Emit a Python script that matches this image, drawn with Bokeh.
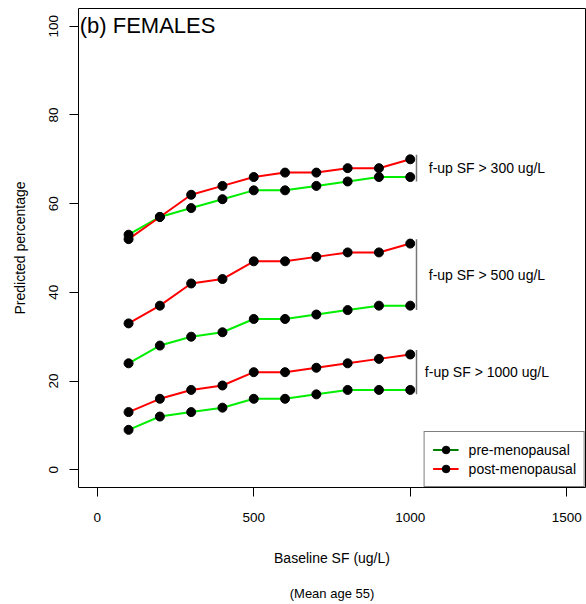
from bokeh.plotting import figure
from bokeh.models import Range1d, FixedTicker, Label, Legend, LegendItem, Title
from bokeh.embed import file_html
from bokeh.resources import INLINE

# ---- data ----
sf = [100, 200, 300, 400, 500, 600, 700, 800, 900, 1000]
pre_300 = [53, 57, 59, 61, 63, 63, 64, 65, 66, 66]
post_300 = [52, 57, 62, 64, 66, 67, 67, 68, 68, 70]
pre_500 = [24, 28, 30, 31, 34, 34, 35, 36, 37, 37]
post_500 = [33, 37, 42, 43, 47, 47, 48, 49, 49, 51]
pre_1000 = [9, 12, 13, 14, 16, 16, 17, 18, 18, 18]
post_1000 = [13, 16, 18, 19, 22, 22, 23, 24, 25, 26]

bracket_x = 1020
bracket_low = [65, 36, 17]
bracket_high = [71, 52, 27]
bracket_labels = ["f-up SF > 300 ug/L", "f-up SF > 500 ug/L", "f-up SF > 1000 ug/L"]
label_x = 1245

x_ticks = [0, 500, 1000, 1500]
y_ticks = [0, 20, 40, 60, 80, 100]

FONT = "Liberation Sans"
GREEN = "#00EE00"
RED = "#FF0000"
LEG_GREEN = "#008000"

p = figure(frame_width=507, frame_height=479, output_backend="svg", toolbar_location=None,
           x_range=Range1d(-60, 1560), y_range=Range1d(-4, 104),
           min_border_left=78, min_border_right=1, min_border_top=8,
           min_border_bottom=0)
p.grid.visible = False
p.outline_line_color = "black"
p.outline_line_width = 1
p.background_fill_color = "white"
p.border_fill_color = "white"

for ax in (p.xaxis[0], p.yaxis[0]):
    ax.axis_line_color = None
    ax.major_tick_out = 9
    ax.major_tick_in = 0
    ax.minor_tick_line_color = None
    ax.major_tick_line_color = "black"
    ax.major_label_text_font = FONT
    ax.major_label_text_font_size = "13.5px"
    ax.major_label_text_color = "black"
    ax.axis_label_text_font = FONT
    ax.axis_label_text_font_size = "14px"
    ax.axis_label_text_font_style = "normal"
    ax.axis_label_text_color = "black"

p.xaxis.ticker = FixedTicker(ticks=x_ticks)
p.yaxis.ticker = FixedTicker(ticks=y_ticks)
p.xaxis.axis_label = "Baseline SF (ug/L)"
p.yaxis.axis_label = "Predicted percentage"
p.xaxis.major_label_standoff = 16
p.xaxis.axis_label_standoff = 25
p.yaxis.major_label_orientation = "vertical"
p.yaxis.major_label_standoff = 11
p.yaxis.axis_label_standoff = 19

# series
for pre, post in ((pre_300, post_300), (pre_500, post_500), (pre_1000, post_1000)):
    p.line(sf, pre, line_color=GREEN, line_width=2)
    p.line(sf, post, line_color=RED, line_width=2)
for ys in (pre_300, post_300, pre_500, post_500, pre_1000, post_1000):
    p.scatter(sf, ys, size=9, fill_color="black", line_color="black")

# brackets and labels
p.segment(x0=[bracket_x] * 3, y0=bracket_low, x1=[bracket_x] * 3, y1=bracket_high,
          line_color="#777777", line_width=1.5)
for lo, hi, txt in zip(bracket_low, bracket_high, bracket_labels):
    p.add_layout(Label(x=label_x, y=(lo + hi) / 2, text=txt, text_align="center",
                       text_baseline="middle", text_font=FONT, text_font_size="14px",
                       text_color="black"))

# title inside
p.add_layout(Label(x=-56, y=100.2, text="(b) FEMALES", text_align="left",
                   text_baseline="alphabetic", text_font=FONT, text_font_size="22px",
                   text_color="black"))

# bottom note
p.add_layout(Title(text="(Mean age 55)", align="center", text_font=FONT,
                   text_font_size="13px", text_font_style="normal",
                   text_color="black", standoff=30), "below")

# legend (dummy renderers placed outside the visible range)
lg1 = p.line([-1000, -900], [-1000, -1000], line_color=LEG_GREEN, line_width=2)
sg1 = p.scatter([-1000], [-1000], size=9, fill_color="black", line_color="black")
lg2 = p.line([-1000, -900], [-1000, -1000], line_color=RED, line_width=2)
sg2 = p.scatter([-1000], [-1000], size=9, fill_color="black", line_color="black")
legend = Legend(items=[LegendItem(label="pre-menopausal", renderers=[lg1, sg1]),
                       LegendItem(label="post-menopausal", renderers=[lg2, sg2])],
                location="bottom_right", margin=0, padding=8, spacing=0,
                label_height=19, glyph_height=19, glyph_width=26, label_standoff=10,
                label_width=104, border_line_color="black", border_line_width=1,
                background_fill_color="white", background_fill_alpha=1,
                label_text_font=FONT, label_text_font_size="14px",
                label_text_color="black")
p.add_layout(legend)

open("out.html", "w").write(file_html(p, INLINE))
